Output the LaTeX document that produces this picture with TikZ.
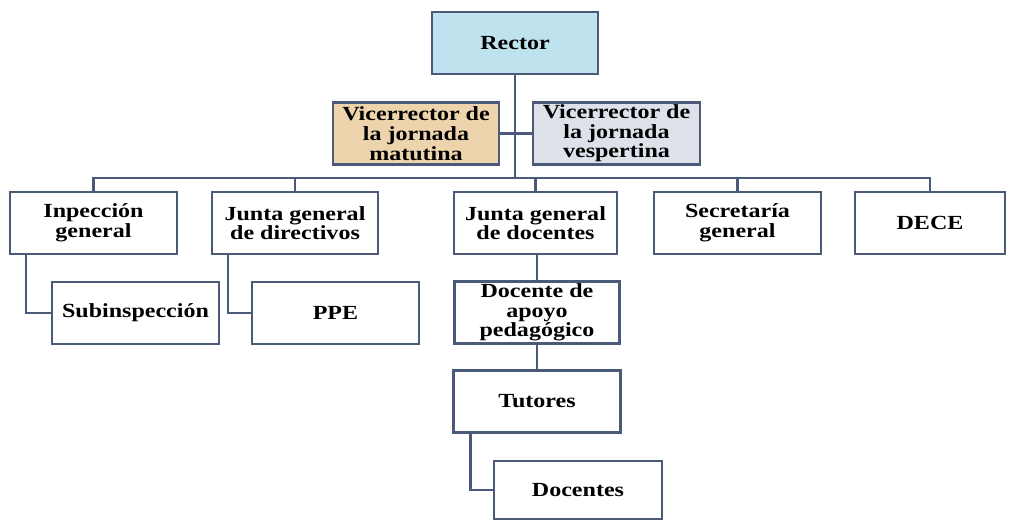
\documentclass[tikz,border=0pt]{standalone}
\usepackage{fontspec}
\setmainfont[FakeStretch=1.2]{Liberation Serif}
\definecolor{azulborde}{HTML}{4B5A78}
\definecolor{celeste}{HTML}{BEE3EE}
\definecolor{arena}{HTML}{EDD4AC}
\definecolor{perla}{HTML}{DDE1E9}
\begin{document}
\begin{tikzpicture}[x=0.02cm,y=-0.02cm]
	\tikzset{caja/.style={draw=azulborde, line width=1.3pt, fill=white, inner sep=0pt, align=center,
			minimum width=#1*0.02cm, minimum height=62*0.02cm,
			font=\bfseries\fontsize{11.4}{11.2}\selectfont},
		%     ancho por defecto en pixeles
		caja/.default={166},
		conector/.style={draw=azulborde, line width=1.3pt}}
	\useasboundingbox (0,0) rectangle (1009,520);
	%Direccion
	\node[caja, fill=celeste]  (rector) at (515,43)      {Rector};
	\node[caja, fill=arena]    (vmat)   at (416,133.5)   {Vicerrector de\\la jornada\\matutina};
	\node[caja=167, fill=perla] (vvesp) at (616.5,133.5) {Vicerrector de\\la jornada\\vespertina};
	\coordinate (bus) at (516,178);
	
	%Segundo nivel
	\node[caja=167] (insp) at (93.5,223)  {Inpección\\general};
	\node[caja]     (jdir) at (295,223)   {Junta general\\de directivos};
	\node[caja=163] (jdoc) at (535.5,223) {Junta general\\de docentes};
	\node[caja=167] (secr) at (737.5,223) {Secretaría\\general};
	\node[caja=150] (dece) at (930,223)   {DECE};
	
	%Tercer nivel
	\node[caja=167] (subinsp)  at (135.5,313)  {Subinspección};
	\node[caja=167] (ppe)      at (335.5,313)  {PPE};
	\node[caja=165] (apoyo)    at (537,312.5)  {Docente de\\apoyo\\pedagógico};
	\node[caja=167] (tutores)  at (537,401.5)  {Tutores};
	\node[caja=168, minimum height=58*0.02cm] (docentes) at (578,490) {Docentes};
	
	%Conectores
	\draw[conector] (rector.south) -- (rector.south |- bus);
	\draw[conector] (vmat.east) -- (vvesp.west);
	\draw[conector] (insp.north) -- (insp.north |- bus) -- (dece.north |- bus) -- (dece.north);
	\draw[conector] (jdir.north) -- (jdir.north |- bus);
	\draw[conector] (jdoc.north) -- (jdoc.north |- bus);
	\draw[conector] (secr.north) -- (secr.north |- bus);
	\draw[conector] (insp.south west) ++(17,0) |- (subinsp.west);
	\draw[conector] (jdir.south west) ++(17,0) |- (ppe.west);
	\draw[conector] (jdoc.south -| apoyo.north) -- (apoyo.north);
	\draw[conector] (apoyo.south) -- (tutores.north);
	\draw[conector] (tutores.south west) ++(18,0) |- (docentes.west);
	
\end{tikzpicture}
\end{document}
